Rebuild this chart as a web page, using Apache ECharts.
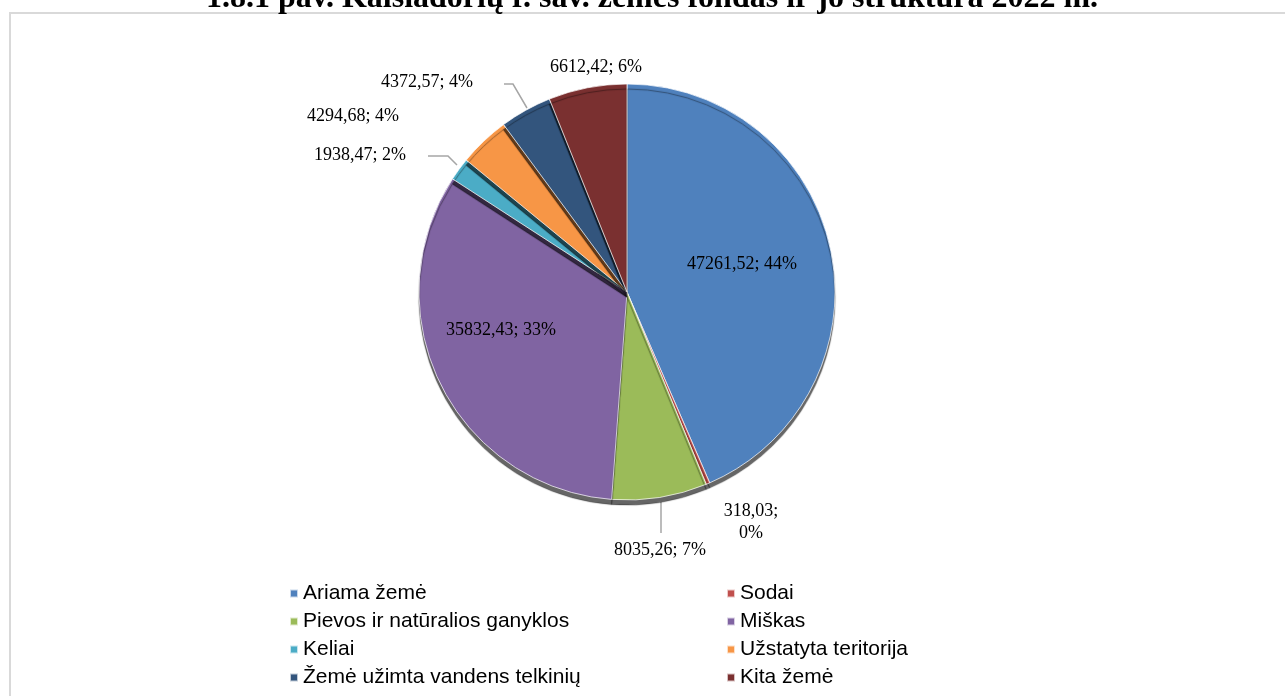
<!DOCTYPE html>
<html><head><meta charset="utf-8">
<script src="https://cdn.jsdelivr.net/npm/echarts@6/dist/echarts.min.js"></script>
<style>html,body{margin:0;padding:0;background:#fff}#c{width:1285px;height:696px}</style>
</head><body><div id="c"></div>
<script>
const titleText = '1.8.1 pav. Kaišiadorių r. sav. žemės fondas ir jo struktūra 2022 m.';
const categories = ['Ariama žemė','Sodai','Pievos ir natūralios ganyklos','Miškas','Keliai','Užstatyta teritorija','Žemė užimta vandens telkinių','Kita žemė'];
const values = [47261.52, 318.03, 8035.26, 35832.43, 1938.47, 4294.68, 4372.57, 6612.42];
const percentLabels = ['44%','0%','7%','33%','2%','4%','4%','6%'];
const valueLabels = ['47261,52','318,03','8035,26','35832,43','1938,47','4294,68','4372,57','6612,42'];
const colors = ['#4F81BD','#C0504D','#9BBB59','#8064A2','#4BACC6','#F79646','#33557D','#7A3030'];

// label placement (centre of text) and leader points, in px
const labelPos = {
  0: {x: 742, y: 264},
  1: {x: 751, y: 522},
  2: {x: 660, y: 550, line: [[661,502],[661,533]]},
  3: {x: 501, y: 330},
  4: {x: 360, y: 155, line: [[457,165],[448,156],[428,156]]},
  5: {x: 353, y: 116},
  6: {x: 427, y: 82, line: [[527,108],[513,84],[504,84]]},
  7: {x: 596, y: 67}
};

const chart = echarts.init(document.getElementById('c'));
const data = categories.map((n,i)=>({
  name: n, value: values[i],
  itemStyle: {color: colors[i]},
  label: {formatter: i===1 ? valueLabels[i]+';\n'+percentLabels[i] : valueLabels[i]+'; '+percentLabels[i]}
}));
const legendStyle = {fontFamily:'Liberation Sans', fontSize:21, color:'#000'};
chart.setOption({
  animation:false,
  graphic:[
    {type:'rect', shape:{x:10,y:13,width:1290,height:700}, style:{fill:'none', stroke:'#d9d9d9', lineWidth:2}, silent:true},
    {type:'text', style:{x:652, y:-17, text:titleText, textAlign:'center', textVerticalAlign:'top', font:'bold 32px "Liberation Serif"', fill:'#000'}}
  ],
  legend:[
    {orient:'vertical', left:284, top:578, height:140, itemGap:7, itemWidth:8, itemHeight:8, icon:'rect', textStyle:legendStyle,
     data: [categories[0],categories[2],categories[4],categories[6]]},
    {orient:'vertical', left:721, top:578, height:140, itemGap:7, itemWidth:8, itemHeight:8, icon:'rect', textStyle:legendStyle,
     data: [categories[1],categories[3],categories[5],categories[7]]}
  ],
  series:[{
    type:'pie', center:[627,292], radius:['0%', 208], startAngle:90, clockwise:true,
    data: data,
    itemStyle:{borderColor:'rgba(255,255,255,0.7)', borderWidth:1, shadowColor:'rgba(0,0,0,0.6)', shadowOffsetY:5, shadowBlur:1},
    label:{show:true, position:'outside', fontFamily:'Liberation Serif', fontSize:18, color:'#000', lineHeight:22, align:'center'},
    labelLine:{show:true, lineStyle:{color:'#a6a6a6', width:1.5}},
    labelLayout: function(p){
      const q = labelPos[p.dataIndex];
      const r = {x:q.x, y:q.y, align:'center', verticalAlign:'middle'};
      r.labelLinePoints = q.line ? q.line : [[q.x,q.y],[q.x,q.y],[q.x,q.y]];
      return r;
    }
  }]
});
</script></body></html>
